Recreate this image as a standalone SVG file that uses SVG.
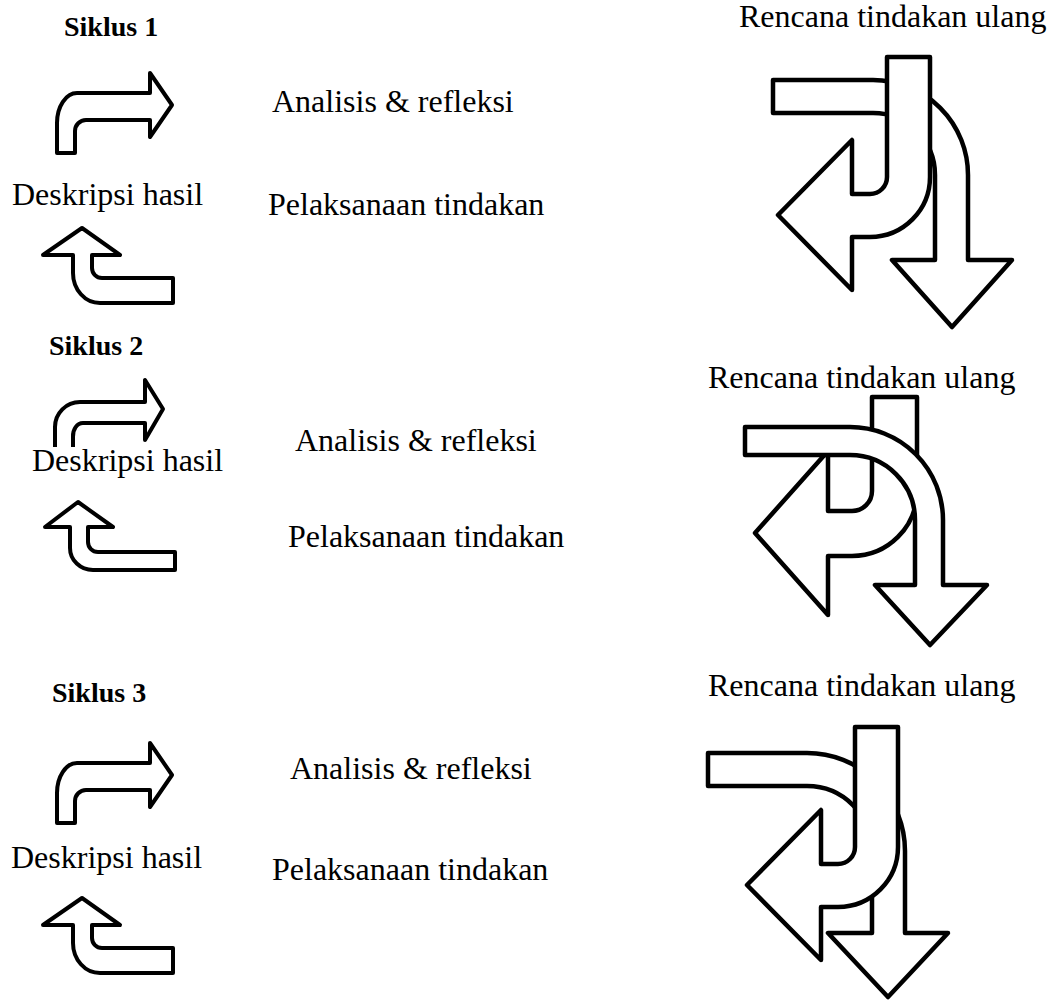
<svg xmlns="http://www.w3.org/2000/svg" width="1053" height="1000" viewBox="0 0 1053 1000">
<style>
.t{font-family:"Liberation Serif","Times New Roman",serif;font-size:32px;fill:#000}
.h{font-family:"Liberation Serif","Times New Roman",serif;font-size:28px;font-weight:bold;fill:#000}
.a{fill:#fff;stroke:#000;stroke-width:4;stroke-linejoin:round}
.b{fill:#fff;stroke:#000;stroke-width:4.5;stroke-linejoin:round}
</style>
<rect width="1053" height="1000" fill="#fff"/>
<defs>
<path id="bentRight" d="M57,153 L57,123 A20,30 0 0 1 77,93 L150,93 L150,73 L172,105 L150,137 L150,120 L86,120 A11,11 0 0 0 75,131 L75,153 Z"/>
<path id="bentUp" d="M82,228 L120,255 L92,255 L92,268 A10,10 0 0 0 102,278 L173,278 L173,303 L100,303 A27,30 0 0 1 73,273 L73,255 L43,255 Z"/>
</defs>

<!-- Cycle 1 -->
<g id="siklus1-label"><text class="h" x="64" y="36">Siklus 1</text></g>
<g id="siklus1-analisis"><text class="t" x="272" y="112">Analisis &amp; refleksi</text></g>
<g id="siklus1-deskripsi"><text class="t" x="12" y="205">Deskripsi hasil</text></g>
<g id="siklus1-pelaksanaan"><text class="t" x="268" y="215">Pelaksanaan tindakan</text></g>
<g id="siklus1-rencana"><text class="t" x="739" y="27">Rencana tindakan ulang</text></g>

<!-- Cycle 2 -->
<g id="siklus2-label"><text class="h" x="49" y="355">Siklus 2</text></g>
<g id="siklus2-rencana"><text class="t" x="708" y="388">Rencana tindakan ulang</text></g>
<g id="siklus2-analisis"><text class="t" x="295" y="451">Analisis &amp; refleksi</text></g>
<g id="siklus2-deskripsi"><text class="t" x="32" y="471">Deskripsi hasil</text></g>
<g id="siklus2-pelaksanaan"><text class="t" x="288" y="547">Pelaksanaan tindakan</text></g>

<!-- Cycle 3 -->
<g id="siklus3-label"><text class="h" x="52" y="702">Siklus 3</text></g>
<g id="siklus3-rencana"><text class="t" x="708" y="696">Rencana tindakan ulang</text></g>
<g id="siklus3-analisis"><text class="t" x="290" y="779">Analisis &amp; refleksi</text></g>
<g id="siklus3-deskripsi"><text class="t" x="11" y="868">Deskripsi hasil</text></g>
<g id="siklus3-pelaksanaan"><text class="t" x="272" y="880">Pelaksanaan tindakan</text></g>

<g id="connectors">
<!-- Cycle 1 small arrows -->
<use href="#bentRight" class="a"/>
<use href="#bentUp" class="a"/>
<!-- Cycle 2 small arrows -->
<path class="a" d="M73,447 L73,437 A10,13 0 0 1 83,423 L145,423 L145,440 L163,409 L145,380 L145,402 L80,402 A25,25 0 0 0 55,427 L55,447"/>
<path class="a" d="M78,502 L113,527 L88,527 L88,542 A10,10 0 0 0 98,552 L175,552 L175,570 L93,570 A23,22 0 0 1 70,548 L70,527 L45,527 Z"/>
<!-- Cycle 3 small arrows -->
<use href="#bentRight" class="a" transform="translate(0,670)"/>
<use href="#bentUp" class="a" transform="translate(0,670)"/>

<!-- Cycle 1 big arrows -->
<path class="b" d="M773,80 L873,80 A95,95 0 0 1 968,175 L968,260 L1012,260 L952,327 L892,260 L935,260 L935,175 A62,62 0 0 0 873,113 L773,113 Z"/>
<path class="b" d="M887,57 L930,57 L930,177 A60,60 0 0 1 870,237 L852,237 L852,290 L778,215 L852,140 L852,194 L870,194 A17,17 0 0 0 887,177 Z"/>

<!-- Cycle 2 big arrows -->
<path class="b" d="M872,397 L917,397 L917,491 A65,65 0 0 1 852,556 L828,556 L828,615 L755,533 L828,451 L828,511 L852,511 A20,20 0 0 0 872,491 Z"/>
<path class="b" d="M745,427 L850,427 A93,93 0 0 1 943,520 L943,585 L987,585 L930,645 L875,585 L915,585 L915,520 A65,65 0 0 0 850,455 L745,455 Z"/>

<!-- Cycle 3 big arrows -->
<path class="b" d="M708,753 L807,753 A98,98 0 0 1 905,851 L905,933 L948,933 L888,997 L828,933 L872,933 L872,851 A65,65 0 0 0 807,786 L708,786 Z"/>
<path class="b" d="M855,727 L898,727 L898,847 A60,60 0 0 1 838,907 L821,907 L821,960 L747,885 L821,810 L821,864 L838,864 A17,17 0 0 0 855,847 Z"/>
</g>
</svg>
